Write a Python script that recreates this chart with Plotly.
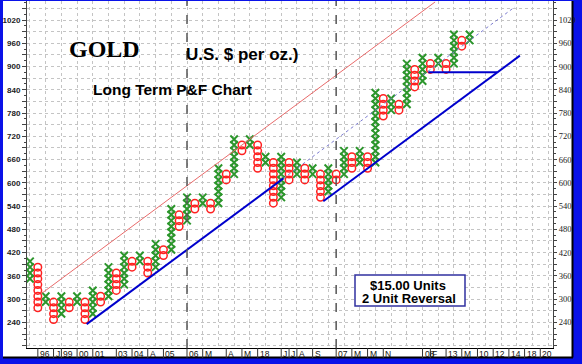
import plotly.graph_objects as go

# ---------------- data ----------------
BOX = 15  # $15.00 units
FIRST_TYPE = "X"  # columns alternate X / O starting with X
col_low = [345, 270, 285, 240, 255, 270, 285, 240, 255, 285, 300, 315, 330, 375, 390, 360,
           375, 405, 420, 480, 495, 525, 540, 525, 540, 600, 615, 675, 690, 630, 645, 540,
           555, 600, 615, 600, 615, 555, 570, 600, 615, 630, 645, 630, 645, 765, 780, 780,
           795, 840, 855, 885, 900, 885, 900, 945, 960]
col_high = [390, 375, 300, 285, 300, 285, 300, 285, 315, 300, 375, 360, 405, 390, 405, 390,
            435, 420, 525, 510, 555, 540, 555, 540, 630, 615, 705, 690, 705, 690, 660, 645,
            660, 645, 645, 630, 630, 615, 630, 615, 675, 660, 675, 660, 825, 810, 810, 795,
            900, 885, 915, 900, 915, 900, 975, 960, 975]

label_cols = [2, 4, 5, 7, 9, 12, 14, 16, 18, 21, 23, 26, 28, 30, 33, 34, 35, 37, 40, 42,
              44, 46, 51, 52, 54, 56, 58, 60, 62, 64, 66]
label_text = ["96", "J", "99", "00", "01", "03", "04", "A", "05", "06", "M", "A", "M", "18",
              "J", "J", "A", "S", "07", "M", "M", "N", "08", "F", "13", "M", "10", "12", "14",
              "18", "20"]
year_cols = [21, 40]

y_tick_vals = [180, 210, 240, 270, 300, 330, 360, 390, 420, 450, 480, 510, 540, 570, 600,
               630, 660, 690, 720, 750, 780, 810, 840, 870, 900, 930, 960, 990, 1020, 1050]
y_tick_text = ["", "", "240", "", "300", "", "360", "", "420", "", "480", "", "540", "", "600",
               "", "660", "", "720", "", "780", "", "840", "", "900", "", "960", "", "1020", ""]

# trend lines (column, price)
upper_x = [2.5, 52.6]
upper_y = [315, 1066.5]
support1_x = [8.22, 33.27]
support1_y = [235.6, 611.4]
support1_ext_x = [33.27, 62.78]
support1_ext_y = [611.4, 1054.0]
support2_x = [38.36, 63.4]
support2_y = [552.6, 928.2]
flat_x = [51.74, 60.5]
flat_y = [885, 885]

# ---------------- geometry ----------------
W, H = 582, 364
PL, PR, PT, PB = 27, 553, 1, 348


def px_x(px):
    return (px - PL) / (PR - PL)


def px_y(py):
    return (PB - py) / (PB - PT)


xs_X, ys_X, xs_O, ys_O = [], [], [], []
for i, (lo, hi) in enumerate(zip(col_low, col_high)):
    col = i + 1
    is_x = (i % 2 == 0) == (FIRST_TYPE == "X")
    v = lo
    while v <= hi:
        if is_x:
            xs_X.append(col)
            ys_X.append(v + BOX / 2)
        else:
            xs_O.append(col)
            ys_O.append(v + BOX / 2)
        v += BOX

fig = go.Figure()
fig.add_trace(go.Scatter(x=xs_X, y=ys_X, mode="markers", hoverinfo="skip",
                         marker=dict(symbol="x-thin-open", size=7.5, color="#2c962c",
                                     line=dict(width=2, color="#2c962c"))))
fig.add_trace(go.Scatter(x=xs_O, y=ys_O, mode="markers", hoverinfo="skip",
                         marker=dict(symbol="circle-open", size=7.5, color="#ff2020",
                                     line=dict(width=1.5, color="#ff2020"))))

fig.add_trace(go.Scatter(x=upper_x, y=upper_y, mode="lines", line=dict(color="#e86a6a", width=1),
                         hoverinfo="skip"))
fig.add_trace(go.Scatter(x=support1_ext_x, y=support1_ext_y, mode="lines",
                         line=dict(color="#7c7cd0", width=1, dash="dot"), hoverinfo="skip"))
fig.add_trace(go.Scatter(x=support1_x, y=support1_y, mode="lines",
                         line=dict(color="#0000cc", width=2), hoverinfo="skip"))
fig.add_trace(go.Scatter(x=support2_x, y=support2_y, mode="lines",
                         line=dict(color="#0000cc", width=2), hoverinfo="skip"))
fig.add_trace(go.Scatter(x=flat_x, y=flat_y, mode="lines",
                         line=dict(color="#0000cc", width=2), hoverinfo="skip"))
fig.add_trace(go.Scatter(x=[], y=[], yaxis="y2", showlegend=False))

shapes = []
# white panel inside blue frame
shapes.append(dict(type="rect", xref="paper", yref="paper", layer="below",
                   x0=px_x(3), x1=px_x(572), y0=px_y(357), y1=px_y(1),
                   fillcolor="white", line=dict(width=0)))
shapes.append(dict(type="line", xref="paper", yref="paper",
                   x0=px_x(3), x1=px_x(573), y0=px_y(357.5), y1=px_y(357.5),
                   line=dict(color="#000000", width=2)))
shapes.append(dict(type="line", xref="paper", yref="paper",
                   x0=px_x(572.5), x1=px_x(572.5), y0=px_y(1), y1=px_y(357.5),
                   line=dict(color="#000000", width=2)))
# year dividers
for c in year_cols:
    shapes.append(dict(type="line", xref="x", yref="paper", x0=c, x1=c, y0=0, y1=1,
                       line=dict(color="#555555", width=1.5, dash="dash")))
# label separators
for c in label_cols:
    shapes.append(dict(type="line", xref="x", yref="paper", x0=c, x1=c, y0=0,
                       y1=-10 / (PB - PT), line=dict(color="#333333", width=1)))
# info box
shapes.append(dict(type="rect", xref="paper", yref="paper",
                   x0=px_x(355), x1=px_x(465), y0=px_y(306), y1=px_y(275),
                   fillcolor="white", line=dict(color="#3030a0", width=1.5)))

annotations = []
for c, t in zip(label_cols, label_text):
    annotations.append(dict(x=c, y=0, xref="x", yref="paper", text=t, showarrow=False,
                            xanchor="left", yanchor="top", xshift=1, yshift=0, borderpad=0,
                            font=dict(family="Liberation Sans", size=8.5, color="#111111")))

annotations += [
    dict(x=px_x(104), y=px_y(49), xref="paper", yref="paper", text="<b>GOLD</b>",
         showarrow=False, xanchor="center", yanchor="middle",
         font=dict(family="Liberation Serif", size=24, color="#000000")),
    dict(x=px_x(184), y=px_y(54), xref="paper", yref="paper", text="<b>U.S. $ per oz.)</b>",
         showarrow=False, xanchor="left", yanchor="middle",
         font=dict(family="Liberation Sans", size=17, color="#000000")),
    dict(x=px_x(90.5), y=px_y(89), xref="paper", yref="paper", text="<b>Long Term P&F Chart</b>",
         showarrow=False, xanchor="left", yanchor="middle",
         font=dict(family="Liberation Sans", size=15.5, color="#000000")),
    dict(x=px_x(408), y=px_y(284.5), xref="paper", yref="paper", text="<b>$15.00 Units</b>",
         showarrow=False, xanchor="center", yanchor="middle", height=12,
         font=dict(family="Liberation Sans", size=13, color="#000000")),
    dict(x=px_x(409), y=px_y(297.5), xref="paper", yref="paper", text="<b>2 Unit Reversal</b>",
         showarrow=False, xanchor="center", yanchor="middle", height=12,
         font=dict(family="Liberation Sans", size=13, color="#000000")),
]

yrange = [174, 1069]
minor = dict(tick0=0, dtick=15, ticks="outside", ticklen=2, tickcolor="#444444", showgrid=False)

fig.update_layout(
    width=W, height=H, autosize=False,
    margin=dict(l=PL, r=W - PR, t=PT, b=H - PB, pad=0),
    paper_bgcolor="#0a12e8", plot_bgcolor="white",
    showlegend=False,
    shapes=shapes, annotations=annotations,
    xaxis=dict(range=[0.62, 67.62], tickmode="linear", tick0=1, dtick=2,
               showticklabels=False, ticks="", showgrid=True, gridcolor="#c4c4c4",
               griddash="dot", gridwidth=1, zeroline=False, showline=True,
               linecolor="#000000", linewidth=1, fixedrange=True),
    yaxis=dict(range=yrange, tickmode="array", tickvals=y_tick_vals, ticktext=y_tick_text,
               ticks="outside", ticklen=4, tickcolor="#444444", showline=True,
               linecolor="#444444", linewidth=1, showgrid=True, gridcolor="#c4c4c4",
               griddash="dot", gridwidth=1, zeroline=False, minor=minor,
               tickfont=dict(family="Liberation Sans", size=8, color="#222222", weight="bold"),
               fixedrange=True),
    yaxis2=dict(range=yrange, overlaying="y", side="right", tickmode="array",
                tickvals=y_tick_vals, ticktext=y_tick_text, ticks="outside", ticklen=3,
                tickcolor="#444444", showline=True, linecolor="#444444", linewidth=1,
                showgrid=False, zeroline=False, minor=minor,
                tickfont=dict(family="Liberation Serif", size=8.5, color="#222222"),
                fixedrange=True),
)

fig.write_html("out.html", config={"displayModeBar": False},
               post_script="document.body.style.margin='0';document.body.style.overflow='hidden';")
